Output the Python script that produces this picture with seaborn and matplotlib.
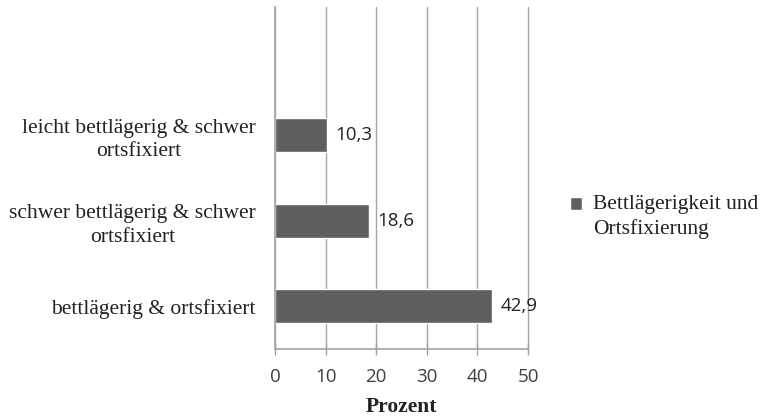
import matplotlib
matplotlib.use("Agg")
import matplotlib.pyplot as plt
import seaborn as sns
import pandas as pd

categories = [
    "leicht bettlägerig & schwer\nortsfixiert",
    "schwer bettlägerig & schwer\nortsfixiert",
    "bettlägerig & ortsfixiert",
]
values = [10.3, 18.6, 42.9]
series_name = "Bettlägerigkeit und\nOrtsfixierung"
x_ticks = [0, 10, 20, 30, 40, 50]

df = pd.DataFrame({"Kategorie": categories, "Prozent": values, "Reihe": series_name})

sns.set_theme(style="white")
serif = ["Liberation Serif", "DejaVu Serif"]
sans = ["Open Sans", "DejaVu Sans"]

fig = plt.figure(figsize=(7.61, 4.18), dpi=100)
ax = fig.add_axes([0.3614, 0.165, 0.3325, 0.818])

sns.barplot(data=df, y="Kategorie", x="Prozent", hue="Reihe", orient="h",
            palette=["#5f5f5f"], width=0.4, ax=ax, legend=True)

ax.set_xlim(0, 50)
ax.set_ylim(2.5, -1.5)
ax.set_xticks(x_ticks)
ax.set_xticklabels([str(t) for t in x_ticks], family=sans, fontsize=13.5, color="#404040")
ax.set_yticks(range(len(categories)))
ax.set_yticklabels(categories, family=serif, fontsize=15.5, color="#222222",
                   ha="right", multialignment="center", linespacing=1.3)
ax.tick_params(axis="y", length=0, pad=14)
ax.tick_params(axis="x", length=9, width=1, color="#a0a0a0", direction="inout", pad=9)
ax.xaxis.set_ticks_position("bottom")

ax.grid(axis="x", color="#a6a6a6", linewidth=1)
for gl in ax.get_xgridlines():
    gl.set_clip_on(False)
ax.set_axisbelow(True)
for side in ["top", "right"]:
    ax.spines[side].set_visible(False)
ax.spines["left"].set_color("#a6a6a6")
ax.spines["bottom"].set_color("#a6a6a6")

ax.set_ylabel("")
ax.set_xlabel("Prozent", family=serif, fontsize=15.5, fontweight="bold", color="#222222", labelpad=8)

for cont in ax.containers:
    ax.bar_label(cont, labels=[f"{v:.1f}".replace(".", ",") for v in cont.datavalues],
                 padding=6, family=sans, fontsize=13.5, color="#222222")

leg = ax.legend(loc="upper left", bbox_to_anchor=(1.167, 0.45), frameon=False,
                prop={"family": serif, "size": 15.5}, handlelength=0.55, handleheight=0.55,
                handletextpad=0.5, borderaxespad=0, borderpad=0)
for t in leg.get_texts():
    t.set_color("#222222")
    t.set_linespacing(1.3)
# put the legend swatch beside the first line of the label
for h in leg.legend_handles:
    h.set_y(h.get_y() + 9)

fig.savefig("out.png", dpi=100)
